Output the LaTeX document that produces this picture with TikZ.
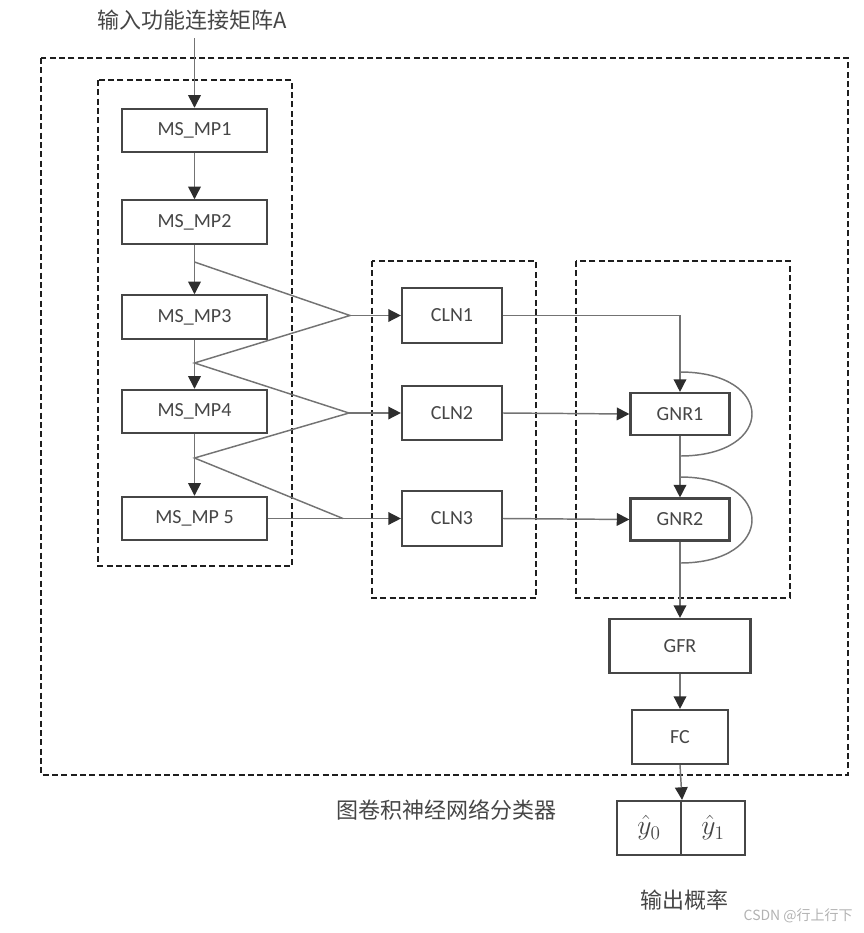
\documentclass[tikz,border=0pt]{standalone}
\usepackage{fontspec}
\setmainfont{Carlito}
\newfontfamily\cjk{Noto Sans CJK SC}
\usetikzlibrary{arrows.meta}
\definecolor{txt}{RGB}{70,70,70}
\definecolor{edge}{RGB}{70,70,70}
\definecolor{conn}{RGB}{115,115,115}
\definecolor{tip}{RGB}{45,45,45}
\definecolor{dsh}{RGB}{30,30,30}
\tikzset{
  box/.style={draw=edge, line width=1.6pt, fill=white, text=txt, font=\fontsize{15}{18}\selectfont, inner sep=0pt},
  msbox/.style={box, minimum width=108.75pt, minimum height=32.5pt},
  clnbox/.style={box, minimum width=75pt, minimum height=41pt},
  gnrbox/.style={box, minimum width=74.25pt, minimum height=31.5pt},
  outcell/.style={box, minimum width=48pt, minimum height=40.5pt, font=\fontsize{20.74}{23}\selectfont},
  grp/.style={draw=dsh, line width=1.8pt, dash pattern=on 4.5pt off 2.5pt},
  conn/.style={draw=conn, line width=1.1pt},
  arr/.style={conn, -{Triangle[length=9.5pt, width=9.5pt, fill=tip, color=tip]}},
  lbl/.style={text=txt, font=\cjk\fontsize{16.5}{19}\selectfont, inner sep=0pt}
}
\begin{document}
\begin{tikzpicture}[x=0.75pt, y=-0.75pt]
\useasboundingbox (0,0) rectangle (864,933);
% dashed groups
\draw[grp] (41,58) rectangle (848,775);
\draw[grp] (98,80) rectangle (292,566);
\draw[grp] (372,261) rectangle (536,598);
\draw[grp] (576,261) rectangle (790,598);
% labels
\node[lbl] (tin) at (192,20) {输入功能连接矩阵A};
\node[lbl] (tgcn) at (446,810) {图卷积神经网络分类器};
\node[lbl] (tout) at (684,900) {输出概率};
\node[text=black!30, font=\cjk\fontsize{10.5}{12}\selectfont, inner sep=0pt, anchor=east] (wm) at (853,916) {CSDN @行上行下};
% MS_MP column
\node[msbox] (m1) at (194.5,130.5) {MS\_MP1};
\node[msbox] (m2) at (194.5,222) {MS\_MP2};
\node[msbox] (m3) at (194.5,317) {MS\_MP3};
\node[msbox] (m4) at (194.5,411.5) {MS\_MP4};
\node[msbox] (m5) at (194.5,518.5) {MS\_MP 5};
% CLN column
\node[clnbox] (c1) at (452,315.5) {CLN1};
\node[clnbox] (c2) at (452,413) {CLN2};
\node[clnbox] (c3) at (452,518.5) {CLN3};
% GNR
\node[gnrbox] (g1) at (680,414) {GNR1};
\node[gnrbox] (g2) at (680,519.5) {GNR2};
\node[box, minimum width=105.75pt, minimum height=40.5pt] (gfr) at (680,646) {GFR};
\node[box, minimum width=72pt, minimum height=40.5pt] (fc) at (680,737) {FC};
\node[outcell] (y0) at (649,828) {$\hat{y}_0$};
\node[outcell] (y1) at (713,828) {$\hat{y}_1$};
% coordinates
\coordinate (top) at (194.5,38);
\coordinate (p1) at (194.5,262);
\coordinate (p2) at (194.5,363);
\coordinate (p3) at (194.5,458);
\coordinate (k1) at (350,315.5);
\coordinate (k2) at (349,413);
\coordinate (k3) at (343,518.5);
\coordinate (t1) at (680,315.5);
\coordinate (l1a) at (680,372);
\coordinate (l1b) at (680,456);
\coordinate (l2a) at (680,477);
\coordinate (l2b) at (680,563);
% column arrows
\draw[arr] (top) -- (m1.north);
\draw[arr] (m1) -- (m2);
\draw[arr] (m2) -- (m3);
\draw[arr] (m3) -- (m4);
\draw[arr] (m4) -- (m5);
% fan lines
\draw[conn] (p1) -- (k1) -- (p2) -- (k2) -- (p3) -- (k3);
\draw[conn] (m5.east) -- (k3);
\draw[arr] (k1) -- (c1.west);
\draw[arr] (k2) -- (c2.west);
\draw[arr] (k3) -- (c3.west);
% to GNR
\draw[arr] (c1.east) -- (t1) -- (g1.north);
\draw[arr] (c2.east) -- (g1.west);
\draw[arr] (c3.east) -- (g2.west);
\draw[arr] (g1) -- (g2);
\draw[arr] (g2) -- (gfr);
\draw[arr] (gfr) -- (fc);
\draw[arr] (fc.south) -- (y0.north east);
% loops
\draw[conn] (l1a) .. controls (776,372) and (776,456) .. (l1b);
\draw[conn] (l2a) .. controls (776,477) and (776,563) .. (l2b);
\end{tikzpicture}
\end{document}
